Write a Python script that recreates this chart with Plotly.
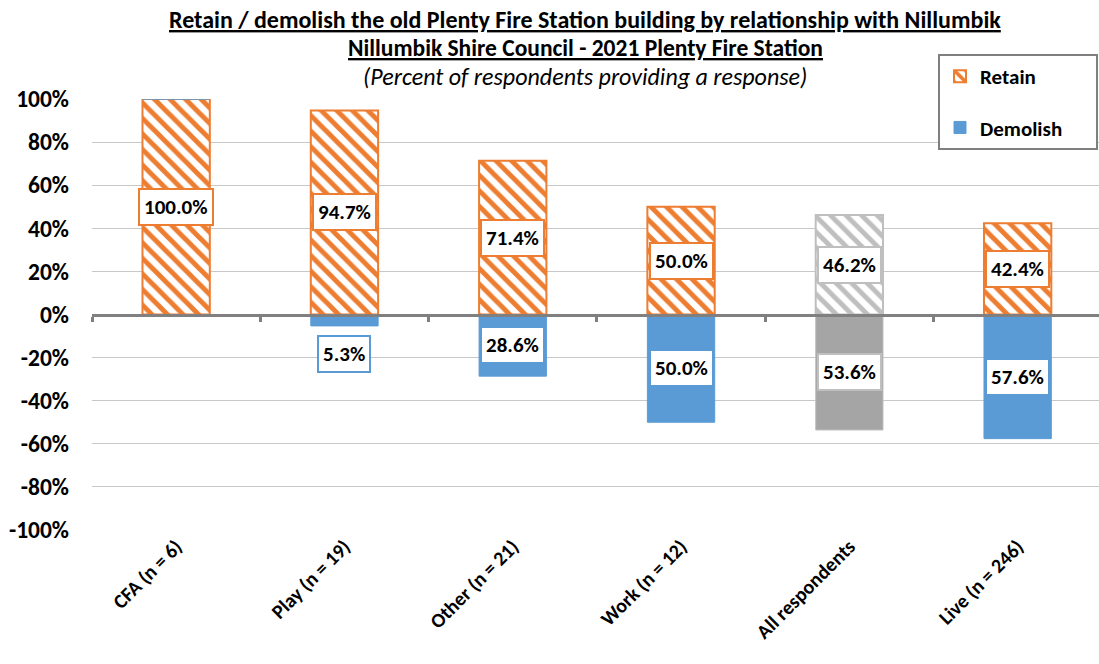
import plotly.graph_objects as go

categories = ["CFA (n = 6)", "Play (n = 19)", "Other (n = 21)", "Work (n = 12)",
              "All respondents", "Live (n = 246)"]
retain = [100.0, 94.7, 71.4, 50.0, 46.2, 42.4]
demolish = [0.0, 5.3, 28.6, 50.0, 53.6, 57.6]
y_ticks = [100, 80, 60, 40, 20, 0, -20, -40, -60, -80, -100]

ORANGE = "#ED7D31"
BLUE = "#5B9BD5"
GRAY = "#A5A5A5"
GRAY_LINE = "#BFBFBF"
FONT = "Carlito, Lato"

W, H = 1099, 664
ML, MR, MT, MB = 92, 0, 99, 134
PLOT_W = W - ML - MR
PLOT_H = H - MT - MB
CAT_PX = 168.3  # width of one category slot (chart is cropped on the right)
x_range = [-0.5, -0.5 + PLOT_W / CAT_PX]

is_total = [c == "All respondents" for c in categories]
retain_fg = [GRAY_LINE if t else ORANGE for t in is_total]
retain_line = [GRAY_LINE if t else ORANGE for t in is_total]
demolish_fill = [GRAY if t else BLUE for t in is_total]
demolish_line = [GRAY_LINE if t else BLUE for t in is_total]

fig = go.Figure()
fig.add_trace(go.Bar(
    x=categories, y=retain, name="<b>Retain</b>", width=0.4,
    marker=dict(color="white", line=dict(color=retain_line, width=2),
                pattern=dict(shape="\\", fgcolor=retain_fg, bgcolor="white",
                             fgopacity=1, size=11, solidity=0.45)),
    hoverinfo="skip", legendgroup="a",
))
fig.add_trace(go.Bar(
    x=categories, y=[-d for d in demolish],
    name="<b>Demolish</b>&nbsp;&nbsp;&nbsp;&nbsp;&nbsp;&nbsp;",
    width=0.4,
    marker=dict(color=demolish_fill, line=dict(color=demolish_line, width=1)),
    hoverinfo="skip", legendgroup="b",
))
# zero axis with boundary ticks
fig.add_trace(go.Bar(x=categories, y=[0] * len(categories), xaxis="x2",
                     showlegend=False, hoverinfo="skip", marker_color="rgba(0,0,0,0)"))

annotations = []
for c, r, d, t in zip(categories, retain, demolish, is_total):
    if r > 0:
        annotations.append(dict(
            x=c, y=r / 2, xref="x", yref="y", text=f"<b>{r:.1f}%</b>", showarrow=False,
            font=dict(family=FONT, size=21, color="black"), bgcolor="white",
            bordercolor=GRAY_LINE if t else ORANGE, borderwidth=2, borderpad=4))
    if d > 0:
        yy = -d / 2 if d >= 10 else -(d + 13)
        annotations.append(dict(
            x=c, y=yy, xref="x", yref="y", text=f"<b>{d:.1f}%</b>", showarrow=False,
            font=dict(family=FONT, size=21, color="black"), bgcolor="white",
            bordercolor=GRAY_LINE if t else BLUE, borderwidth=2, borderpad=4))

titles = [
    ("<b><u>Retain / demolish the old Plenty Fire Station building by relationship with Nillumbik</u></b>", 20, 24),
    ("<b><u>Nillumbik Shire Council - 2021 Plenty Fire Station</u></b>", 48, 23.5),
    ("<i>(Percent of respondents providing a response)</i>", 76, 24),
]
for txt, ypx, sz in titles:
    annotations.append(dict(x=(585 - ML) / PLOT_W, y=1 + (MT - ypx) / PLOT_H,
                            xref="paper", yref="paper",
                            text=txt, showarrow=False, xanchor="center", yanchor="middle",
                            font=dict(family=FONT, size=sz, color="black")))

fig.update_layout(
    width=W, height=H, autosize=False,
    margin=dict(l=ML, r=MR, t=MT, b=MB),
    paper_bgcolor="white", plot_bgcolor="white",
    barmode="relative",
    font=dict(family=FONT, color="black"),
    showlegend=True,
    legend=dict(x=(938 - ML) / PLOT_W, y=1 + (MT - 54) / PLOT_H,
                xanchor="left", yanchor="top",
                bgcolor="white", bordercolor="#7F7F7F", borderwidth=2,
                font=dict(family=FONT, size=21, color="black"),
                tracegroupgap=21, traceorder="grouped",
                itemwidth=30),
    annotations=annotations,
    xaxis=dict(type="category", categoryorder="array", categoryarray=categories,
               range=x_range,
               tickmode="array", tickvals=categories,
               ticktext=[f"<b>{c}</b>" for c in categories],
               tickangle=-45, showgrid=False, showline=False, ticks="",
               automargin=False,
               tickfont=dict(family=FONT, size=20, color="black")),
    xaxis2=dict(type="category", categoryorder="array", categoryarray=categories,
                range=x_range,
                overlaying="x", anchor="free", position=0.5,
                showline=True, linecolor="#808080", linewidth=3,
                ticks="outside", tickson="boundaries", ticklen=5, tickwidth=3,
                tickcolor="#808080", showticklabels=False, showgrid=False),
    yaxis=dict(range=[-100, 100], tickvals=y_ticks,
               ticktext=[f"<b>{v}%</b>" for v in y_ticks],
               showgrid=True, gridcolor="#C8C8C8", gridwidth=1,
               zeroline=False, showline=False, ticks="",
               ticklabelstandoff=22, automargin=False,
               tickfont=dict(family=FONT, size=23.5, color="black")),
)

fig.write_html("out.html", config={"displayModeBar": False, "responsive": False},
               post_script="document.body.style.margin='0';document.body.style.overflow='hidden';")
